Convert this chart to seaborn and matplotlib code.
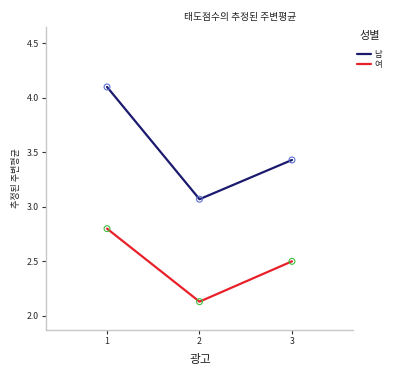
import matplotlib
matplotlib.use("Agg")
import matplotlib.pyplot as plt
import pandas as pd
import seaborn as sns

# estimated marginal means
ads = [1, 2, 3]
male = [4.10, 3.07, 3.43]
female = [2.80, 2.13, 2.50]
groups = ["남", "여"]
line_colors = {"남": "#1b1a6e", "여": "#e8202a"}
marker_colors = {"남": "#5a6fd0", "여": "#3fbf3f"}

df = pd.DataFrame({
    "광고": ads * 2,
    "평균": male + female,
    "성별": ["남"] * 3 + ["여"] * 3,
})

sns.set_style("white")
plt.rcParams["font.family"] = ["Noto Sans CJK KR", "DejaVu Sans"]

fig = plt.figure(figsize=(4.0, 3.78), dpi=100)
ax = fig.add_axes([46 / 400, 1 - 330 / 378, (353 - 46) / 400, (330 - 27) / 378])

sns.lineplot(data=df, x="광고", y="평균", hue="성별", palette=line_colors,
             linewidth=1.6, ax=ax, legend=False)
sns.scatterplot(data=df, x="광고", y="평균", hue="성별", palette=marker_colors,
                s=18, ax=ax, legend=False, zorder=5)
pts = ax.collections[-1]
pts.set_edgecolors(pts.get_facecolors())
pts.set_facecolors("none")
pts.set_linewidth(0.8)

ax.set_xlim(0.34, 3.66)
ax.set_ylim(1.87, 4.65)
ax.set_xticks(ads)
ax.set_xticklabels([str(a) for a in ads])
ax.set_yticks([2.0, 2.5, 3.0, 3.5, 4.0, 4.5])
ax.set_yticklabels(["2.0", "2.5", "3.0", "3.5", "4.0", "4.5"])
ax.tick_params(axis="both", length=3, width=0.8, color="#333333",
               labelsize=6.3, pad=2, direction="out", left=True, bottom=True)
for side in ["top", "right"]:
    ax.spines[side].set_visible(False)
for side in ["left", "bottom"]:
    ax.spines[side].set_color("#c8c8c8")
    ax.spines[side].set_linewidth(1.0)
ax.set_xlabel("")
ax.set_ylabel("")

fig.text(240 / 400, 1 - 17 / 378, "태도점수의 추정된 주변평균", ha="center",
         va="center", fontsize=7, color="#222222")
fig.text(17 / 400, 1 - 178 / 378, "추정된 주변평균", rotation=90, ha="center",
         va="center", fontsize=6.5, color="#222222")
fig.text(200 / 400, 1 - 360 / 378, "광고", ha="center", va="center",
         fontsize=8.5, color="#222222")

# legend
fig.text(370 / 400, 1 - 36 / 378, "성별", ha="center", va="center",
         fontsize=8, color="#222222")
for i, g in enumerate(groups):
    y = 1 - (54 + 10 * i) / 378
    fig.add_artist(plt.Line2D([357 / 400, 371 / 400], [y, y],
                              color=line_colors[g], lw=1.6))
    fig.text(374 / 400, y, g, ha="left", va="center", fontsize=6,
             color="#222222", rotation=0)

fig.savefig("out.png", dpi=100)
